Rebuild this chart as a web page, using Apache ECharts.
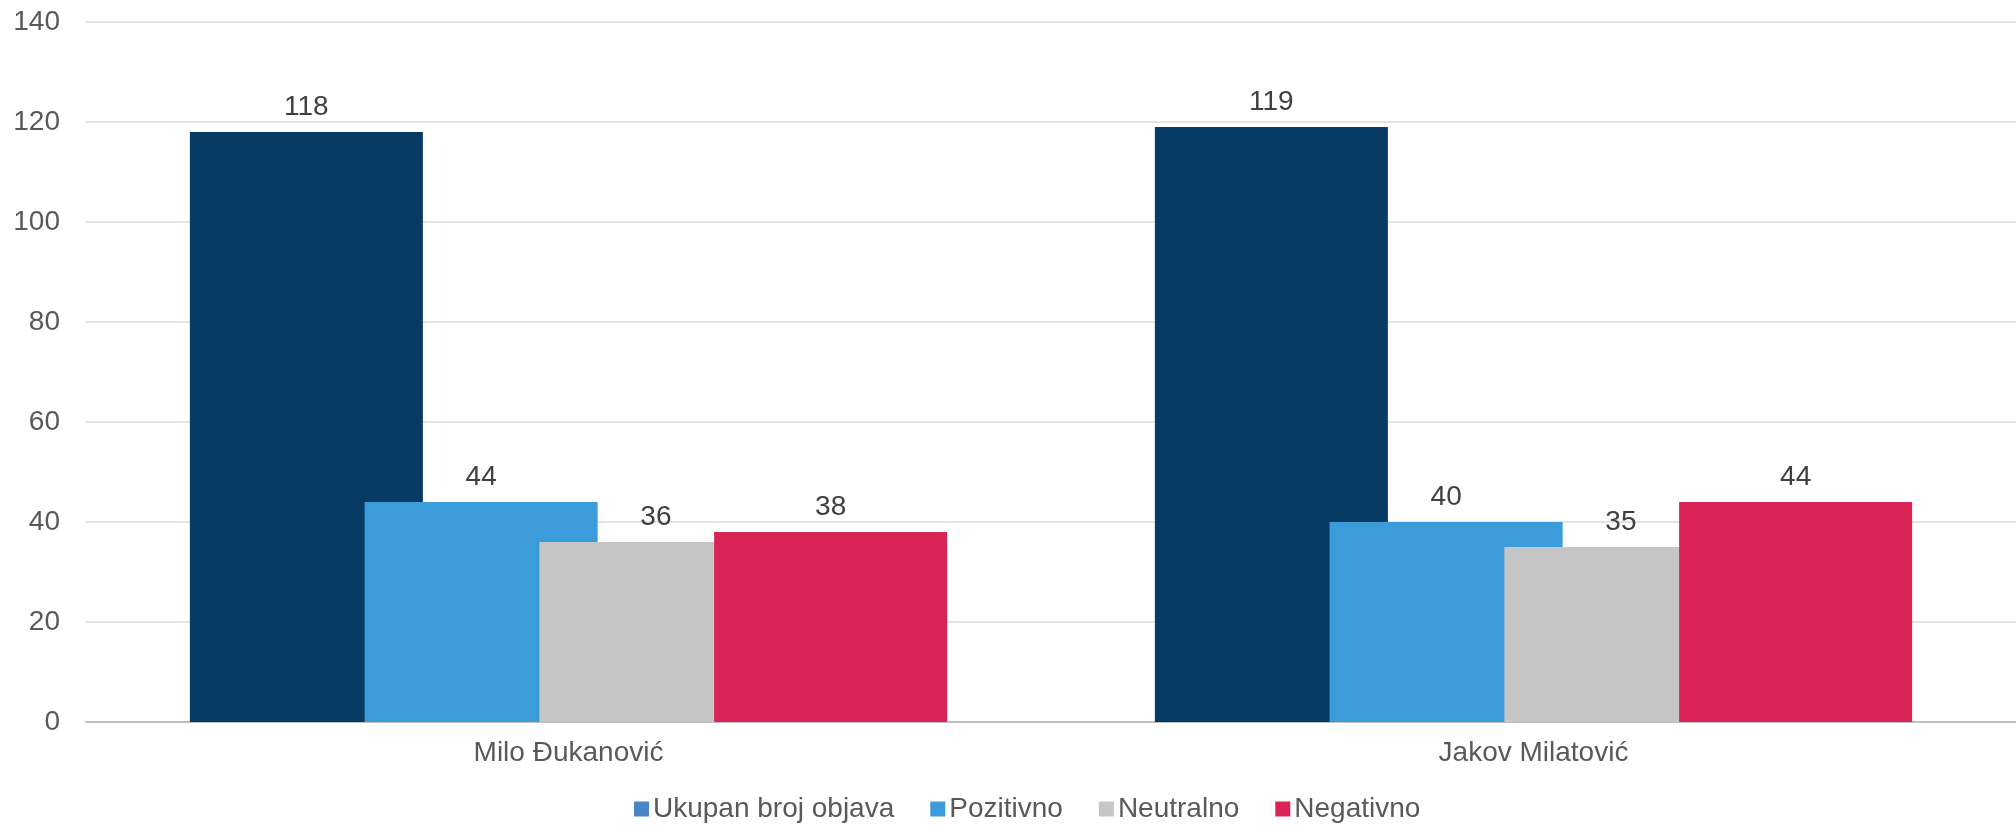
<!DOCTYPE html>
<html>
<head>
<meta charset="utf-8">
<script src="https://cdn.jsdelivr.net/npm/echarts@6/dist/echarts.min.js"></script>
<style>
html,body{margin:0;padding:0;background:#fff;}
#chart{width:2016px;height:826px;}
</style>
</head>
<body>
<div id="chart"></div>
<script>
const categories = ['Milo Đukanović', 'Jakov Milatović'];
const seriesNames = ['Ukupan broj objava', 'Pozitivno', 'Neutralno', 'Negativno'];
const ukupno = [118, 119];
const pozitivno = [44, 40];
const neutralno = [36, 35];
const negativno = [38, 44];
const yTicks = [0, 20, 40, 60, 80, 100, 120, 140];

const colors = ['#073B63', '#3C9BD9', '#C6C6C6', '#DA2455'];
const legendColors = ['#4A86C6', '#3C9BD9', '#C6C6C6', '#DA2455'];
const values = [ukupno, pozitivno, neutralno, negativno];

const font = '"Liberation Sans", Arial, sans-serif';

const chart = echarts.init(document.getElementById('chart'));
chart.setOption({
  animation: false,
  backgroundColor: '#ffffff',
  textStyle: { fontFamily: font },
  grid: { left: 86, right: 0, top: 22, bottom: 104, containLabel: false },
  legend: {
    bottom: -2,
    left: 629,
    itemWidth: 15,
    itemHeight: 15,
    itemGap: 36,
    icon: 'rect',
    textStyle: { fontSize: 28, color: '#595959', fontFamily: font, padding: [0, 0, 0, -1] },
    data: seriesNames.map((n, i) => ({ name: n, itemStyle: { color: legendColors[i] } }))
  },
  xAxis: {
    type: 'category',
    data: categories,
    axisLine: { show: true, lineStyle: { color: '#BFBFBF', width: 2 } },
    axisTick: { show: false },
    axisLabel: { fontSize: 28, color: '#595959', margin: 17, fontFamily: font }
  },
  yAxis: {
    type: 'value',
    min: yTicks[0],
    max: yTicks[yTicks.length - 1],
    interval: 20,
    axisLine: { show: false },
    axisTick: { show: false },
    axisLabel: { fontSize: 28, color: '#595959', margin: 26, fontFamily: font },
    splitLine: { lineStyle: { color: '#E3E3E3', width: 2 } }
  },
  series: seriesNames.map((n, i) => ({
    name: n,
    type: 'bar',
    data: values[i],
    barWidth: 233,
    barGap: '-25%',
    itemStyle: { color: colors[i] },
    label: {
      show: true,
      position: 'top',
      distance: 11,
      fontSize: 28,
      color: '#404040',
      fontFamily: font
    }
  }))
});
</script>
</body>
</html>
